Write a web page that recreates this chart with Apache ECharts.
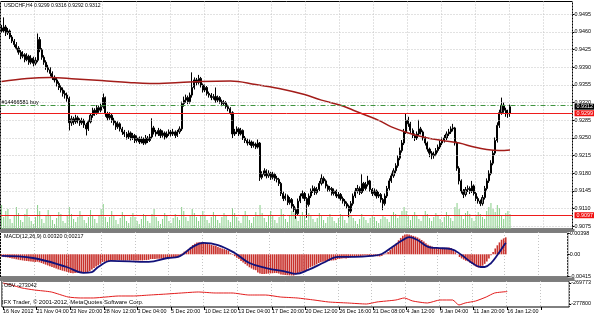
<!DOCTYPE html>
<html>
<head>
<meta charset="utf-8">
<script src="https://cdn.jsdelivr.net/npm/echarts@6.0.0/dist/echarts.min.js"></script>
<style>
  html, body { margin: 0; padding: 0; background: #fff; }
  #chart { width: 594px; height: 316px; }
</style>
</head>
<body>
<div id="chart"></div>
<script>
// USDCHF H4, prices in pips (x 0.0001)
const openFirst = 9468;
const closeP = [
  9462,9470,9458,9462,9450,9442,9435,9428,9420,9412,
  9415,9405,9412,9400,9408,9398,9404,9445,9425,9410,
  9400,9390,9385,9378,9370,9365,9358,9350,9345,9338,
  9335,9328,9280,9288,9282,9290,9285,9280,9284,9276,
  9268,9282,9295,9305,9300,9310,9305,9312,9330,9298,
  9290,9295,9285,9280,9272,9278,9268,9262,9258,9252,
  9260,9250,9255,9245,9250,9242,9248,9240,9250,9245,
  9252,9270,9262,9258,9265,9255,9260,9252,9258,9262,
  9258,9262,9255,9262,9268,9318,9325,9330,9322,9335,
  9350,9365,9360,9368,9355,9345,9350,9338,9335,9330,
  9332,9325,9330,9322,9318,9320,9312,9308,9300,9258,
  9262,9268,9258,9265,9250,9245,9240,9242,9235,9238,
  9232,9240,9172,9178,9185,9175,9180,9172,9178,9170,
  9168,9160,9140,9130,9135,9122,9128,9115,9108,9100,
  9125,9135,9140,9130,9118,9135,9145,9150,9142,9148,
  9160,9170,9165,9155,9148,9150,9140,9145,9135,9138,
  9130,9125,9120,9115,9105,9120,9135,9145,9150,9142,
  9160,9150,9158,9165,9148,9140,9145,9135,9138,9128,
  9120,9135,9150,9165,9175,9185,9195,9210,9225,9240,
  9262,9285,9278,9265,9255,9250,9258,9268,9262,9250,
  9240,9228,9220,9215,9218,9225,9232,9240,9245,9250,
  9258,9262,9268,9270,9240,9190,9165,9145,9138,9148,
  9150,9145,9155,9140,9130,9125,9120,9132,9150,9165,
  9180,9200,9220,9245,9275,9300,9315,9305,9298,9299,9312
];
const highP = [
  9474,9489,9474,9468,9465,9454,9446,9440,9432,9424,
  9422,9418,9418,9415,9414,9411,9410,9457,9450,9428,
  9414,9404,9395,9390,9382,9374,9370,9362,9355,9350,
  9344,9340,9332,9294,9292,9296,9294,9289,9290,9288,
  9280,9286,9299,9310,9309,9315,9314,9318,9338,9332,
  9302,9301,9298,9290,9284,9283,9281,9272,9266,9262,
  9265,9263,9260,9258,9255,9253,9253,9251,9256,9254,
  9258,9289,9274,9266,9270,9268,9265,9263,9263,9267,
  9266,9268,9265,9266,9273,9322,9332,9336,9334,9340,
  9380,9370,9369,9375,9371,9358,9356,9353,9342,9339,
  9337,9350,9334,9333,9326,9325,9323,9316,9311,9303,
  9268,9273,9271,9270,9267,9254,9249,9247,9245,9243,
  9241,9247,9242,9184,9190,9188,9186,9183,9183,9181,
  9175,9171,9163,9144,9140,9138,9133,9131,9119,9112,
  9130,9140,9146,9143,9133,9140,9150,9156,9154,9153,
  9165,9178,9174,9168,9158,9155,9153,9150,9148,9143,
  9141,9134,9129,9124,9118,9125,9140,9151,9157,9154,
  9178,9163,9163,9175,9167,9151,9150,9148,9143,9141,
  9131,9140,9155,9170,9181,9190,9200,9216,9231,9246,
  9268,9298,9292,9282,9269,9259,9263,9286,9272,9265,
  9253,9243,9231,9224,9223,9230,9237,9245,9251,9256,
  9263,9268,9273,9278,9272,9243,9194,9168,9149,9153,
  9156,9154,9165,9158,9143,9134,9128,9137,9155,9170,
  9186,9206,9226,9251,9281,9306,9330,9320,9310,9306,9316
];
const lowP = [
  9458,9458,9452,9454,9446,9438,9430,9424,9415,9406,
  9408,9400,9402,9395,9396,9392,9394,9400,9420,9405,
  9395,9385,9380,9372,9365,9360,9352,9345,9340,9332,
  9328,9322,9265,9274,9276,9278,9279,9274,9276,9270,
  9255,9264,9279,9290,9294,9296,9300,9301,9308,9292,
  9285,9286,9280,9275,9266,9268,9263,9256,9252,9247,
  9248,9245,9246,9240,9241,9238,9239,9236,9237,9240,
  9242,9248,9257,9253,9254,9250,9251,9247,9249,9254,
  9253,9254,9250,9252,9258,9264,9312,9320,9317,9318,
  9330,9346,9354,9356,9350,9340,9341,9334,9330,9325,
  9326,9320,9321,9318,9313,9314,9308,9303,9296,9250,
  9254,9258,9254,9255,9246,9240,9235,9236,9230,9231,
  9228,9229,9165,9168,9174,9170,9171,9167,9168,9165,
  9162,9155,9135,9125,9126,9117,9118,9110,9103,9090,
  9097,9121,9130,9125,9092,9114,9131,9141,9137,9138,
  9145,9156,9160,9150,9143,9144,9136,9136,9131,9130,
  9126,9120,9115,9110,9093,9101,9116,9131,9140,9137,
  9139,9145,9146,9154,9143,9135,9136,9130,9131,9122,
  9107,9116,9131,9146,9161,9171,9180,9191,9206,9221,
  9236,9258,9272,9260,9250,9244,9246,9254,9257,9245,
  9235,9223,9212,9208,9209,9214,9221,9228,9236,9241,
  9246,9254,9258,9263,9235,9185,9158,9140,9131,9134,
  9143,9139,9141,9136,9125,9120,9115,9116,9128,9146,
  9161,9176,9196,9216,9241,9270,9296,9300,9292,9290,9292
];
// tick volume, scaled
const volume = [
  24,12,18,20,10,6,14,22,16,9,
  7,15,20,12,8,5,12,24,18,10,
  6,14,19,13,9,5,11,17,15,8,
  6,13,22,15,10,7,12,18,14,9,
  6,12,19,14,10,6,14,20,25,12,
  7,12,18,13,9,5,11,17,14,8,
  6,12,16,12,8,5,10,15,13,8,
  6,15,20,12,8,5,10,16,13,8,
  6,11,15,12,9,22,18,12,8,14,
  20,16,12,8,14,18,14,9,6,12,
  17,14,9,6,12,16,13,9,7,21,
  16,12,8,6,13,18,14,9,6,12,
  17,14,24,16,11,7,13,18,14,9,
  6,12,20,15,10,7,13,18,16,12,
  8,14,17,13,9,16,14,10,7,11,
  16,13,9,6,12,15,12,8,6,11,
  15,13,9,6,16,14,11,8,5,10,
  15,12,9,6,11,14,12,8,6,10,
  14,12,10,7,13,17,15,11,14,18,
  22,18,14,9,13,17,14,10,8,13,
  18,15,11,8,12,16,14,10,7,12,
  17,14,11,8,22,26,20,14,10,16,
  18,15,11,8,13,17,15,12,10,18,
  22,26,20,17,24,21,14,10,16,18,15
];
// MACD main (x 0.00001)
const macdHist = [
  -40,-48,-55,-62,-70,-78,-86,-94,-102,-110,
  -116,-122,-126,-132,-136,-142,-146,-140,-150,-165,
  -180,-195,-210,-225,-240,-255,-270,-285,-298,-310,
  -320,-330,-345,-352,-356,-352,-350,-348,-346,-348,
  -350,-340,-315,-285,-260,-230,-205,-180,-145,-140,
  -135,-125,-118,-115,-115,-110,-112,-115,-118,-120,
  -115,-118,-114,-118,-115,-118,-114,-116,-110,-110,
  -104,-90,-88,-88,-84,-86,-82,-84,-82,-78,
  -76,-72,-70,-64,-56,-20,15,50,70,100,
  140,175,200,225,230,228,225,218,205,190,
  178,165,155,140,125,112,98,82,65,20,
  -10,-35,-65,-90,-125,-155,-185,-215,-245,-268,
  -290,-300,-345,-365,-370,-372,-368,-365,-360,-358,
  -355,-355,-365,-380,-385,-392,-395,-398,-400,-402,
  -380,-360,-340,-325,-318,-295,-270,-245,-228,-212,
  -190,-165,-148,-140,-135,-128,-125,-118,-115,-110,
  -90,-85,-80,-75,-78,-70,-60,-52,-48,-45,
  -35,-32,-28,-22,-25,-30,-32,-35,-35,-38,
  -40,-30,-10,15,45,80,120,165,215,265,
  310,350,375,380,372,360,348,335,318,295,
  270,240,210,180,160,145,135,128,124,120,
  122,124,126,128,120,85,40,-5,-50,-78,
  -100,-122,-130,-158,-185,-210,-235,-250,-240,-215,
  -180,-135,-80,-20,45,110,170,225,275,300,320
];
// MACD signal (bar index, x 0.00001)
const sigIdx = [0,15,31,39,43,46,52,70,79,84,91,96,103,111,118,126,136,140,146,154,160,168,176,181,186,191,194,198,203,207,214,219,224,228,230,233,236,240];
const sigVal = [-30,-70,-240,-350,-335,-240,-125,-145,-70,-50,140,215,175,25,-165,-260,-335,-370,-295,-145,-50,-50,-30,5,140,270,325,270,140,120,100,-15,-165,-240,-240,-165,-15,217];
// moving average (bar index, pips)
const maIdx = [0,12,23,35,47,60,70,84,94,108,120,131,143,151,160,166,172,178,184,192,200,208,216,223,229,235,240];
const maVal = [9362,9368,9370,9367,9364,9360,9358,9360,9362,9363,9356,9348,9336,9325,9315,9305,9295,9285,9272,9260,9251,9245,9240,9232,9227,9225,9226];
// OBV (bar index, value)
const obvIdx = [0,4,9,15,23,31,37,43,49,55,62,70,78,85,93,101,109,117,125,132,140,148,155,164,173,178,187,191,195,202,208,214,217,220,225,230,234,240];
const obvVal = [-269800,-270540,-271680,-272450,-273210,-275120,-275500,-275500,-275120,-274740,-274740,-274360,-273980,-273590,-273210,-273590,-273590,-274360,-274360,-275120,-275500,-276270,-277030,-277410,-277800,-277030,-276270,-275500,-276650,-277410,-276270,-276270,-278180,-277410,-276650,-275120,-273590,-273042];

const xLabels = ['16 Nov 2012','21 Nov 04:00','23 Nov 20:00','28 Nov 12:00','3 Dec 04:00','5 Dec 20:00',
  '10 Dec 12:00','13 Dec 04:00','17 Dec 20:00','20 Dec 12:00','26 Dec 16:00','31 Dec 08:00',
  '4 Jan 12:00','9 Jan 04:00','11 Jan 20:00','16 Jan 12:00'];
const priceTicks = [0.9075,0.9110,0.9145,0.9180,0.9215,0.9250,0.9285,0.9320,0.9355,0.9390,0.9425,0.9460,0.9495];
const macdTicks = [-0.00415, 0, 0.00398];
const obvTicks = [-277800, -269773];
const levels = [0.9299, 0.9097];
const orderPrice = 0.9314;
const orderText = '#14466581 buy';
const slots = 270; // bars + empty chart shift

const n = closeP.length;
const cats = Array.from({ length: slots }, (_, i) => i);
const candles = closeP.map((c, i) => [(i ? closeP[i - 1] : openFirst) / 1e4, c / 1e4, lowP[i] / 1e4, highP[i] / 1e4]);
const last = candles[n - 1];
const titleText = 'USDCHF,H4 ' + [last[0], last[3], last[2], last[1]].map(v => v.toFixed(4)).join(' ');
const macdText = 'MACD(12,26,9) ' + (macdHist[n - 1] / 1e5).toFixed(5) + ' ' + (sigVal[sigVal.length - 1] / 1e5).toFixed(5);
const obvText = 'OBV ' + obvVal[obvVal.length - 1];

const font = 'Liberation Sans';
const fs = 5.4;
const dotted = { color: '#c4c4c4', width: 1, type: [1, 2] };

const grids = [
  { left: 0.5, top: 1.5, width: 573, height: 227.5 },
  { left: 0.5, top: 232, width: 573, height: 45 },
  { left: 0.5, top: 281, width: 573, height: 26 }
].map(g => Object.assign(g, { show: true, borderColor: '#000', borderWidth: 1, backgroundColor: '#fff' }));

const xAxes = [0, 1, 2].map(g => ({
  type: 'category', gridIndex: g, data: cats, boundaryGap: true,
  axisLine: { show: false },
  axisTick: { show: g === 2, interval: 15, length: 3, alignWithLabel: true, lineStyle: { color: '#000' } },
  axisLabel: {
    show: g === 2, interval: 15, align: 'left', margin: 2, fontSize: fs, color: '#000', fontFamily: font,
    formatter: v => xLabels[Number(v) / 16] || ''
  },
  splitLine: { show: true, interval: 15, lineStyle: dotted }
}));

function valueAxis(g, min, max, ticks, fmt) {
  return {
    type: 'value', gridIndex: g, position: 'right', min: min, max: max,
    axisLine: { show: false },
    axisTick: { show: true, length: 2, customValues: ticks, lineStyle: { color: '#000' } },
    axisLabel: { customValues: ticks, margin: 2, fontSize: fs, color: '#000', fontFamily: font, formatter: fmt },
    splitLine: { show: false }
  };
}

const markLabel = (bg, txt) => ({
  show: true, position: 'end', distance: 2, backgroundColor: bg, color: '#fff',
  padding: [1, 2, 0, 2], fontSize: fs, fontFamily: font, formatter: txt
});

// helper: an empty series on the price axis that only carries horizontal lines
function levelSeries(z, lineStyle, items) {
  return {
    type: 'line', xAxisIndex: 0, yAxisIndex: 0, data: [], z: z, silent: true,
    markLine: { symbol: ['none', 'none'], silent: true, animation: false, precision: 6, lineStyle: lineStyle, data: items }
  };
}

const option = {
  animation: false,
  backgroundColor: '#fff',
  grid: grids,
  xAxis: xAxes,
  yAxis: [
    valueAxis(0, 0.90697, 0.95204, priceTicks, v => v.toFixed(4)),
    { type: 'value', gridIndex: 0, min: 0, max: 228, show: false, splitLine: { show: false } },
    valueAxis(1, -0.00429, 0.004215, macdTicks, v => (v === 0 ? '0.00' : v.toFixed(5))),
    valueAxis(2, -278946, -269009, obvTicks, v => String(v))
  ],
  series: [
    levelSeries(0, dotted, priceTicks.map(v => ({ yAxis: v, label: { show: false } }))),
    {
      type: 'bar', xAxisIndex: 0, yAxisIndex: 1, data: volume, barWidth: 1,
      itemStyle: { color: '#86cf86' }, z: 1, silent: true
    },
    {
      type: 'candlestick', xAxisIndex: 0, yAxisIndex: 0, data: candles, barWidth: 1.6, z: 3,
      itemStyle: { color: '#8a8a8a', color0: '#000', borderColor: '#000', borderColor0: '#000', borderWidth: 1 }
    },
    {
      type: 'line', xAxisIndex: 0, yAxisIndex: 0, z: 4, smooth: 0.4, showSymbol: false,
      data: maIdx.map((x, k) => [x, maVal[k] / 1e4]),
      lineStyle: { color: '#a31d1a', width: 1.5 }
    },
    levelSeries(6, { color: '#3f943f', width: 1, type: [5, 2, 1, 2] }, [{
      yAxis: orderPrice,
      label: { show: true, position: 'insideStartTop', distance: 1, formatter: orderText, color: '#000', fontSize: fs, fontFamily: font }
    }]),
    levelSeries(7, { color: '#ee1c1c', width: 1, type: 'solid' },
      levels.map(v => ({ yAxis: v, label: markLabel('#f01010', v.toFixed(4)) }))),
    levelSeries(8, { color: 'rgba(0,0,0,0)', width: 0 }, [{
      yAxis: last[1], label: markLabel('#000', last[1].toFixed(4))
    }]),
    {
      type: 'bar', xAxisIndex: 1, yAxisIndex: 2, data: macdHist.map(v => v / 1e5), barWidth: 1.6,
      itemStyle: { color: '#c8322d' }
    },
    {
      type: 'line', xAxisIndex: 1, yAxisIndex: 2, smooth: 0.4, showSymbol: false, z: 4,
      data: sigIdx.map((x, k) => [x, sigVal[k] / 1e5]),
      lineStyle: { color: '#12127a', width: 1.8 }
    },
    {
      type: 'line', xAxisIndex: 2, yAxisIndex: 3, smooth: 0.2, showSymbol: false,
      data: obvIdx.map((x, k) => [x, obvVal[k]]),
      lineStyle: { color: '#e31c1c', width: 1 }
    }
  ],
  graphic: [
    { type: 'rect', shape: { x: 0, y: 229, width: 574.5, height: 3 }, style: { fill: '#7c7c7c' }, z: 100 },
    { type: 'rect', shape: { x: 0, y: 277.5, width: 574.5, height: 3.5 }, style: { fill: '#7c7c7c' }, z: 100 },
    { type: 'text', left: 4, top: 3, z: 100, style: { text: titleText, fontSize: 5.1, fontFamily: font, fill: '#000' } },
    { type: 'text', left: 4, top: 234, z: 100, style: { text: macdText, fontSize: fs, fontFamily: font, fill: '#000' } },
    { type: 'text', left: 4, top: 283, z: 100, style: { text: obvText, fontSize: fs, fontFamily: font, fill: '#000' } },
    { type: 'text', left: 2, top: 299.5, z: 100, style: { text: 'IFX Trader, \u00a9 2001-2012, MetaQuotes Software Corp.', fontSize: 5.9, fontFamily: font, fill: '#000' } }
  ]
};

const chart = echarts.init(document.getElementById('chart'), null, { renderer: 'canvas' });
chart.setOption(option);
</script>
</body>
</html>
